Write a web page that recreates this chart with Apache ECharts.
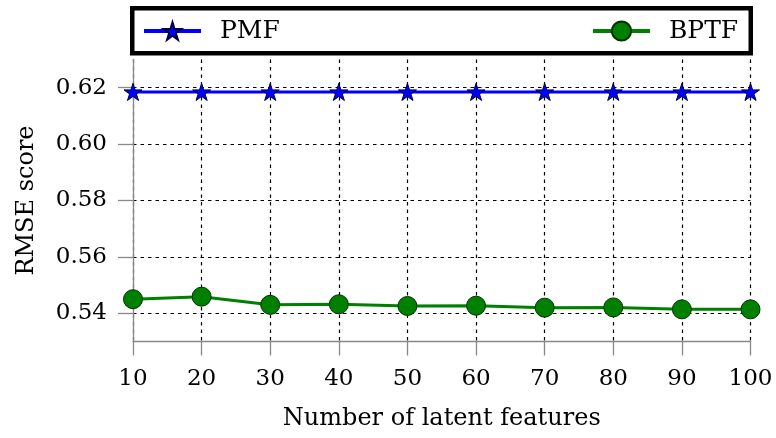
<!DOCTYPE html>
<html>
<head>
<meta charset="utf-8">
<script src="https://cdn.jsdelivr.net/npm/echarts@6/dist/echarts.min.js"></script>
<style>
html,body{margin:0;padding:0;background:#fff;}
#chart{width:776px;height:438px;}
</style>
</head>
<body>
<div id="chart"></div>
<script>
var xValues = [10, 20, 30, 40, 50, 60, 70, 80, 90, 100];
var pmfValues = [0.6185, 0.6185, 0.6185, 0.6185, 0.6185, 0.6185, 0.6185, 0.6185, 0.6185, 0.6185];
var bptfValues = [0.5450, 0.5459, 0.5430, 0.5432, 0.5426, 0.5427, 0.5420, 0.5421, 0.5414, 0.5414];
var yTickValues = [0.54, 0.56, 0.58, 0.60, 0.62];
var seriesNames = ['PMF', 'BPTF'];
var xAxisTitle = 'Number of latent features';
var yAxisTitle = 'RMSE score';

var starPath = 'path://M100,0L122.45,69.1L195.1,69.1L136.3,111.8L158.8,180.9L100,138.2L41.2,180.9L63.7,111.8L4.9,69.1L77.55,69.1Z';
var FONT = 'DejaVu Serif';

function pairs(xs, ys) { return xs.map(function (x, i) { return [x, ys[i]]; }); }

var chart = echarts.init(document.getElementById('chart'), null, {renderer: 'canvas'});
chart.setOption({
  animation: false,
  backgroundColor: '#fff',
  graphic: [{
    type: 'rect', z: 0,
    shape: {x: 132.25, y: 8.25, width: 618.5, height: 45},
    style: {fill: '#fff', stroke: '#000', lineWidth: 4.5}
  }],
  legend: [{
    data: [seriesNames[0]], left: 142, top: 18.5, padding: 0, z: 5,
    itemWidth: 57, itemHeight: 22,
    lineStyle: {width: 4},
    textStyle: {fontFamily: FONT, fontSize: 25, color: '#000', lineHeight: 24, padding: [0, 0, 0, 14]}
  }, {
    data: [seriesNames[1]], left: 591, top: 18.5, padding: 0, z: 5,
    itemWidth: 57, itemHeight: 24,
    lineStyle: {width: 4},
    textStyle: {fontFamily: FONT, fontSize: 25, color: '#000', lineHeight: 24, padding: [0, 0, 0, 14]}
  }],
  grid: {left: 133, right: 25.5, top: 59.5, bottom: 96.5, containLabel: false},
  xAxis: {
    type: 'value', min: 10, max: 100, interval: 10, z: 3,
    name: xAxisTitle, nameLocation: 'middle', nameGap: 65,
    nameTextStyle: {fontFamily: FONT, fontSize: 24, color: '#000'},
    axisLine: {show: true, onZero: false, lineStyle: {color: '#888', width: 1.3}},
    axisTick: {show: true, inside: false, length: 14, lineStyle: {color: '#888', width: 1.3}},
    axisLabel: {fontFamily: FONT, fontSize: 23, color: '#000', margin: 26},
    splitLine: {show: true, lineStyle: {color: '#000', width: 1.2, type: [3.5, 4]}}
  },
  yAxis: {
    type: 'value', min: 0.53, max: 0.63, z: 3,
    name: yAxisTitle, nameLocation: 'middle', nameGap: 94,
    nameTextStyle: {fontFamily: FONT, fontSize: 24, color: '#000'},
    axisLine: {show: true, onZero: false, lineStyle: {color: '#888', width: 1.3}},
    axisTick: {show: true, inside: false, length: 15, customValues: yTickValues, lineStyle: {color: '#888', width: 1.3}},
    axisLabel: {fontFamily: FONT, fontSize: 23, color: '#000', margin: 26, customValues: yTickValues,
      formatter: function (v) { return v.toFixed(2); }},
    splitLine: {show: true, lineStyle: {color: '#000', width: 1.2, type: [3.5, 4]}}
  },
  series: [{
    name: seriesNames[0], type: 'line', data: pairs(xValues, pmfValues),
    symbol: starPath, symbolSize: 18, symbolKeepAspect: true, showAllSymbol: true,
    lineStyle: {color: '#0000ff', width: 3},
    itemStyle: {color: '#0000ff', borderColor: '#000040', borderWidth: 1}
  }, {
    name: seriesNames[1], type: 'line', data: pairs(xValues, bptfValues),
    symbol: 'circle', symbolSize: 19, showAllSymbol: true,
    lineStyle: {color: '#008000', width: 3},
    itemStyle: {color: '#008000', borderColor: '#003300', borderWidth: 1}
  }]
});
</script>
</body>
</html>
